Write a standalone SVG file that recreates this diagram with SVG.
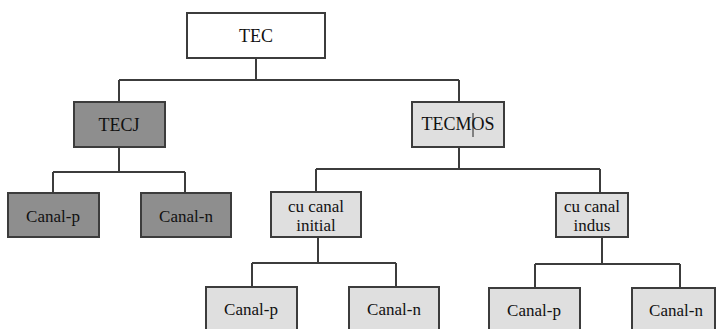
<svg xmlns="http://www.w3.org/2000/svg" width="717" height="329" viewBox="0 0 717 329">
<style>
.b{stroke:#3c3c3c;stroke-width:2}
.w{fill:#ffffff}
.d{fill:#8e8e8e}
.l{fill:#dfdfdf}
text{font-family:"Liberation Serif","Times New Roman",serif;font-size:18px;fill:#111;text-anchor:middle}
.s{font-size:17px}
#conn line{stroke:#3c3c3c;stroke-width:2}
</style>
<rect width="717" height="329" fill="#ffffff"/>
<g id="conn">
<line x1="256" y1="58" x2="256" y2="80"/>
<line x1="119" y1="80" x2="459" y2="80"/>
<line x1="119" y1="80" x2="119" y2="102"/>
<line x1="459" y1="80" x2="459" y2="102"/>
<line x1="119" y1="147" x2="119" y2="172"/>
<line x1="53" y1="172" x2="185" y2="172"/>
<line x1="53" y1="172" x2="53" y2="193"/>
<line x1="185" y1="172" x2="185" y2="193"/>
<line x1="459" y1="147" x2="459" y2="169"/>
<line x1="316" y1="169" x2="600" y2="169"/>
<line x1="316" y1="169" x2="316" y2="192"/>
<line x1="600" y1="169" x2="600" y2="193"/>
<line x1="318" y1="237" x2="318" y2="263"/>
<line x1="252" y1="263" x2="396" y2="263"/>
<line x1="252" y1="263" x2="252" y2="287"/>
<line x1="396" y1="263" x2="396" y2="287"/>
<line x1="602" y1="237" x2="602" y2="264"/>
<line x1="535" y1="264" x2="680" y2="264"/>
<line x1="535" y1="264" x2="535" y2="288"/>
<line x1="680" y1="264" x2="680" y2="288"/>
</g>
<g id="tec"><rect class="b w" x="187" y="13" width="138" height="45"/><text x="256" y="42">TEC</text></g>
<g id="tecj"><rect class="b d" x="74" y="102" width="91" height="45"/><text x="119" y="131">TECJ</text></g>
<g id="tecmos"><rect class="b l" x="412" y="102" width="92" height="45"/><text x="458" y="130">TECMOS</text><line x1="473" y1="113" x2="473" y2="137" stroke="#222" stroke-width="1"/></g>
<g id="tecj-p"><rect class="b d" x="8" y="193" width="91" height="44"/><text class="s" x="53" y="222">Canal-p</text></g>
<g id="tecj-n"><rect class="b d" x="141" y="193" width="90" height="44"/><text class="s" x="186" y="222">Canal-n</text></g>
<g id="initial"><rect class="b l" x="271" y="192" width="90" height="45"/><text class="s" x="316" y="212">cu canal</text><text class="s" x="316" y="231">initial</text></g>
<g id="indus"><rect class="b l" x="556" y="193" width="72" height="44"/><text class="s" x="592" y="212">cu canal</text><text class="s" x="592" y="231">indus</text></g>
<g id="init-p"><rect class="b l" x="206" y="287" width="91" height="50"/><text class="s" x="251" y="315">Canal-p</text></g>
<g id="init-n"><rect class="b l" x="349" y="287" width="90" height="50"/><text class="s" x="394" y="315">Canal-n</text></g>
<g id="ind-p"><rect class="b l" x="489" y="288" width="91" height="50"/><text class="s" x="534" y="316">Canal-p</text></g>
<g id="ind-n"><rect class="b l" x="632" y="288" width="83" height="50"/><text class="s" x="676" y="316">Canal-n</text></g>
</svg>
